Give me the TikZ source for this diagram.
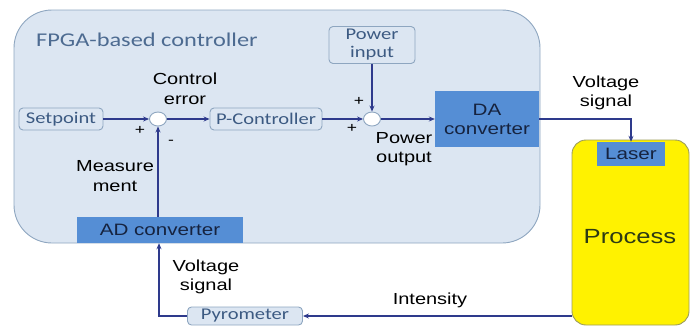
\documentclass[tikz,border=0pt]{standalone}
\usepackage{fontspec}
\setmainfont{Liberation Sans}
\newfontfamily\arialx[FakeStretch=1.25]{Liberation Sans}
\newfontfamily\calx[FakeStretch=1.25]{Carlito}
\usetikzlibrary{arrows.meta,shapes.geometric}
\definecolor{ctrlfill}{HTML}{DCE6F2}
\definecolor{ctrlborder}{HTML}{8EA6C0}
\definecolor{titleblue}{HTML}{4D6B91}
\definecolor{boxtext}{HTML}{3C5A82}
\definecolor{dafill}{HTML}{558ED5}
\definecolor{dkblue}{RGB}{22,35,63}
\definecolor{navy}{HTML}{2E3A8C}
\definecolor{proctext}{RGB}{45,58,20}
\definecolor{procborder}{HTML}{9C9C5C}
\tikzset{
  lightbox/.style={draw=ctrlborder, fill=ctrlfill, rounded corners=4pt, line width=0.9pt, inner sep=0pt, text=boxtext, font=\calx\fontsize{16.4}{18}\selectfont, align=center},
  darkbox/.style={fill=dafill, inner sep=0pt, text=dkblue, font=\arialx\fontsize{16.5}{19}\selectfont, align=center},
  lbl/.style={text=black, font=\arialx\fontsize{16}{19.5}\selectfont, align=center, inner sep=0pt},
  sign/.style={text=black, font=\arialx\fontsize{14}{14}\selectfont, inner sep=0pt},
  sumpt/.style={ellipse, draw=ctrlborder, fill=white, line width=0.9pt, minimum width=17pt, minimum height=14pt, inner sep=0pt},
  conn/.style={draw=navy, line width=1.4pt, -{Stealth[length=6pt,width=5pt]}}
}
\begin{document}
\begin{tikzpicture}[x=1pt,y=-1pt]
\useasboundingbox (0,0) rectangle (695,327);
% controller background
\path[fill=ctrlfill, draw=ctrlborder, line width=0.9pt, rounded corners=38pt] (14,10) rectangle (540,243);
\node[anchor=west, text=titleblue, font=\calx\fontsize{19.5}{22}\selectfont, inner sep=0pt] (title) at (36,40) {FPGA-based controller};
% process
\path[fill=yellow, draw=procborder, line width=0.9pt, rounded corners=14pt] (572,140) rectangle (689,325);
\node[text=proctext, font=\arialx\fontsize{20.5}{22}\selectfont, inner sep=0pt] (proc) at (630,237) {Process};
\node[darkbox, minimum width=68pt, minimum height=24pt] (laser) at (631,154) {Laser};
% boxes
\node[lightbox, minimum width=84pt, minimum height=22pt] (sp) at (61,119) {Setpoint};
\node[sumpt] (s1) at (158,119) {};
\node[lightbox, minimum width=112pt, minimum height=22pt] (pc) at (266,119) {P-Controller};
\node[sumpt] (s2) at (372,119) {};
\node[lightbox, minimum width=86pt, minimum height=37pt] (pin) at (372,45) {Power\\input};
\node[darkbox, minimum width=104pt, minimum height=56pt] (da) at (487,119) {DA\\converter};
\node[darkbox, minimum width=166pt, minimum height=26pt] (ad) at (160,230) {AD converter};
\node[lightbox, minimum width=115pt, minimum height=18pt] (pyro) at (245,316) {Pyrometer};
% labels
\node[lbl] (ce) at (185,89) {Control\\error};
\node[lbl] (po) at (404,149) {Power\\output};
\node[lbl] (vs1) at (606,93) {Voltage\\signal};
\node[lbl] (meas) at (115,176) {Measure\\ment};
\node[lbl] (vs2) at (206,277) {Voltage\\signal};
\node[lbl] (int) at (430,300) {Intensity};
\node[sign] (p1) at (140,130) {+};
\node[sign] (m1) at (171,142) {-};
\node[sign] (p2) at (359,101) {+};
\node[sign] (p3) at (352,128) {+};
% connectors
\draw[conn] (sp) -- (s1);
\draw[conn] (s1) -- (pc);
\draw[conn] (pc) -- (s2);
\draw[conn] (pin) -- (s2);
\draw[conn] (s2) -- (da);
\coordinate (c1) at (631,119);
\draw[conn] (da.east) -- (c1) -- (laser.north);
\coordinate (c3) at (572,316);
\draw[conn] (c3) -- (pyro.east);
\coordinate (c2) at (159,316);
\draw[conn] (pyro.west) -- (c2) -- (c2 |- ad.south);
\draw[conn] (ad.north -| s1) -- (s1.south);
\end{tikzpicture}
\end{document}
